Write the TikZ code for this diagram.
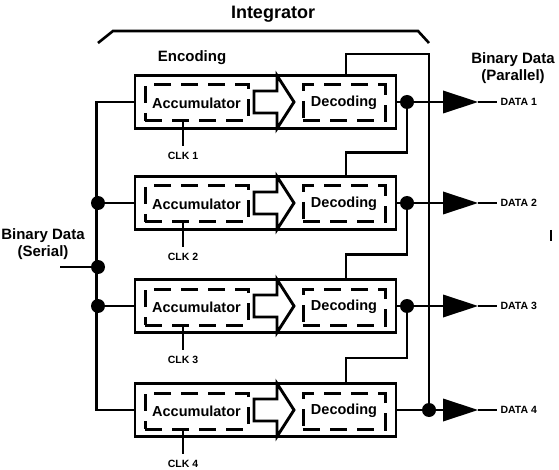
\documentclass[tikz,border=0pt]{standalone}
\usepackage{fontspec}
\setmainfont{Liberation Sans}
\usetikzlibrary{calc,positioning}
\tikzset{
  wire/.style={line width=2.9pt},
  blockbox/.style={draw,line width=2.9pt,minimum width=261pt,minimum height=53pt,inner sep=0pt},
  stagebox/.style={draw,line width=3pt,dash pattern=on 17pt off 10pt,minimum height=36pt,
    inner sep=0pt,font=\bfseries\fontsize{14.5}{16}\selectfont},
  junction/.style={circle,fill,inner sep=0pt,minimum size=14pt},
  tag/.style={font=\bfseries\fontsize{10.5}{12}\selectfont},
  title/.style={font=\bfseries\fontsize{15}{17}\selectfont,align=center}
}

\begin{document}
\begin{tikzpicture}[x=1pt,y=-1pt]
\useasboundingbox (0,0) rectangle (559,470);

% the four encoding stages
\foreach \i/\y in {1/102,2/203,3/306,4/410} {
  \node[blockbox] (blk\i) at (265.5,\y) {};
  \node[stagebox,minimum width=103pt] (acc\i) at (196.5,\y+1) {Accumulator};
  \node[stagebox,minimum width=82pt] (dec\i) at (344,\y+1) {Decoding};
  \draw[wire]
    (254,\y-11) -- (277,\y-11) -- (277,\y-26.5) --
    (294,\y) -- (277,\y+26.5) -- (277,\y+11) -- (254,\y+11) -- cycle;
  \node[tag] (clk\i) at (183,\y+54) {CLK \i};
  \draw[wire] (acc\i.south -| clk\i) -- ([yshift=3pt]clk\i.north);
  % output buffer
  \coordinate (buf\i) at (443,\y);
  \coordinate (bufout\i) at (478,\y);
  \fill (buf\i) -- ++(0,-11.5) -- (bufout\i) -- ++(-35,11.5) -- cycle;
  \node[tag,anchor=west] (data\i) at (497,\y) {DATA \i};
  \draw[wire] (blk\i.east) -- (buf\i);
  \draw[wire] (bufout\i) -- (data\i.west);
}

% decoded value handed on to the next stage
\node[junction] (dot1) at (407,102) {};
\node[junction] (dot2) at (407,203) {};
\node[junction] (dot3) at (407,306) {};
\node[junction] (dot4) at (429,410) {};
\foreach \i/\j in {1/2,2/3,3/4} {
  \coordinate (fb\i) at ($(blk\i.south)!.5!(blk\j.north)$);
  \coordinate (fbx\i) at (346,0 |- fb\i);
  \draw[wire] (dot\i.center) |- (fbx\i) -- (fbx\i |- blk\j.north);
}

% last stage loops back to the first
\coordinate (top) at (346,54);
\draw[wire] (top |- blk1.north) -- (top) -| (dot4.center);

% serial input bus
\draw[wire] (blk1.west) -| ($(blk4.west)+(-37,0)$) -- (blk4.west);
\node[junction] (jn2) at (98,203) {};
\node[junction] (jn3) at (98,306) {};
\node[junction] (jnin) at (98,267) {};
\coordinate (serin) at (60,267);
\draw[wire] (jn2) -- (blk2.west);
\draw[wire] (jn3) -- (blk3.west);
\draw[wire] (serin) -- (jnin);

\node[title] (serial) at (43,244) {Binary Data\\(Serial)};
\node[title] (parallel) at (513,68) {Binary Data\\(Parallel)};
\node[title] (enc) at (192,58) {Encoding};
\node[font=\bfseries\fontsize{18}{21}\selectfont] (intg) at (273,14) {Integrator};
\draw[line width=2.6pt] (98,43) -- (113,31) -- (418,31) -- (429,43);

\draw[line width=2pt] (551,230) -- (551,241);
\end{tikzpicture}
\end{document}
